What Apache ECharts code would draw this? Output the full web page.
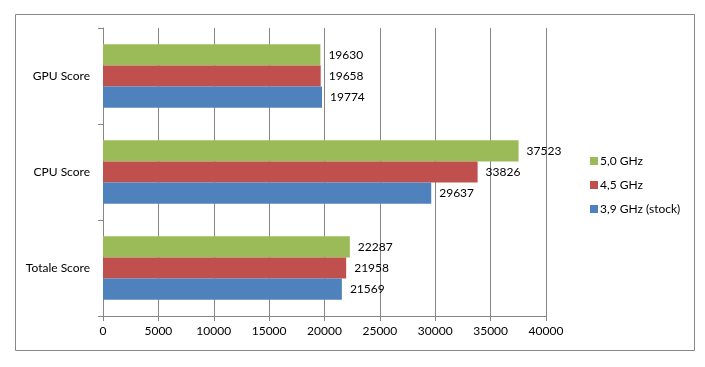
<!DOCTYPE html>
<html><head><meta charset="utf-8">
<script src="https://cdn.jsdelivr.net/npm/echarts@6/dist/echarts.min.js"></script>
<style>html,body{margin:0;padding:0;background:#fff}#c{width:705px;height:367px}</style>
</head><body><div id="c"></div>
<script>
const categories = ['Totale Score', 'CPU Score', 'GPU Score'];
const seriesNames = ['5,0 GHz', '4,5 GHz', '3,9 GHz (stock)'];
const ghz50 = [22287, 37523, 19630];
const ghz45 = [21958, 33826, 19658];
const stock39 = [21569, 29637, 19774];
const xTicks = { min: 0, max: 40000, interval: 5000 };
const colors = ['#9BBB59', '#C0504D', '#4F81BD'];
const font = 'Lato, "Open Sans", sans-serif';

const chart = echarts.init(document.getElementById('c'), null, { renderer: 'canvas' });
const values = [ghz50, ghz45, stock39];
chart.setOption({
  animation: false,
  backgroundColor: '#fff',
  grid: { left: 103, right: 159, top: 28, bottom: 51, containLabel: false },
  graphic: [{
    type: 'rect', shape: { x: 15.5, y: 14.5, width: 679, height: 336 },
    style: { fill: 'none', stroke: '#868686', lineWidth: 1 }, silent: true, z: -1
  }],
  legend: {
    orient: 'vertical', left: 585, top: 150,
    data: seriesNames,
    icon: 'rect', itemWidth: 8, itemHeight: 8, itemGap: 12,
    textStyle: { fontFamily: font, fontSize: 12, color: '#000', padding: [0, 0, 0, -3] }
  },
  xAxis: {
    type: 'value', min: xTicks.min, max: xTicks.max, interval: xTicks.interval,
    axisLine: { show: true, lineStyle: { color: '#868686' } },
    axisTick: { show: true, length: 5, lineStyle: { color: '#868686' } },
    axisLabel: { fontFamily: font, fontSize: 12, color: '#000', margin: 9, formatter: v => String(v) },
    splitLine: { show: true, lineStyle: { color: '#868686' } }
  },
  yAxis: {
    type: 'category', data: categories,
    axisLine: { show: true, lineStyle: { color: '#868686' } },
    axisTick: { show: true, length: 5, lineStyle: { color: '#868686' } },
    axisLabel: { fontFamily: font, fontSize: 12, color: '#000', margin: 13 }
  },
  series: seriesNames.map((n, i) => ({
    name: n, type: 'bar', data: values[i],
    barGap: '0%', barCategoryGap: '34%',
    itemStyle: { color: colors[i] },
    label: { show: true, position: 'right', distance: 8, fontFamily: font, fontSize: 12, color: '#000' }
  }))
});
</script></body></html>
